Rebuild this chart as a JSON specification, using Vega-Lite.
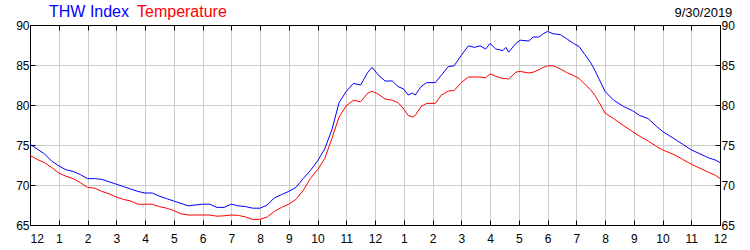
{
  "$schema": "https://vega.github.io/schema/vega-lite/v6.json",
  "width": 690,
  "height": 200,
  "autosize": {"type": "none"},
  "padding": {"left": 30, "top": 25, "right": 30, "bottom": 25},
  "background": "white",
  "config": {
    "font": "Liberation Sans",
    "view": {"stroke": "black", "strokeWidth": 1},
    "axis": {
      "domainColor": "black",
      "domainWidth": 1,
      "tickColor": "black",
      "tickWidth": 1,
      "tickSize": -5,
      "labelFont": "Liberation Sans",
      "labelFontSize": 12,
      "labelColor": "black",
      "gridColor": "#cccccc",
      "gridWidth": 1,
      "gridOpacity": 1,
      "title": null
    }
  },
  "title": {
    "text": "9/30/2019",
    "anchor": "end",
    "orient": "top",
    "font": "Liberation Sans",
    "fontSize": 13,
    "fontWeight": "normal",
    "color": "black",
    "offset": 0,
    "dx": -2,
    "dy": 16
  },
  "data": {
    "values": [
      {"h": 0.0, "thw": 75.1, "temp": 73.7},
      {"h": 0.25, "thw": 74.5, "temp": 73.2},
      {"h": 0.5, "thw": 73.9, "temp": 72.8},
      {"h": 0.75, "thw": 73.0, "temp": 72.2},
      {"h": 1.0, "thw": 72.4, "temp": 71.5},
      {"h": 1.25, "thw": 71.9, "temp": 71.1},
      {"h": 1.5, "thw": 71.7, "temp": 70.8},
      {"h": 1.75, "thw": 71.3, "temp": 70.3},
      {"h": 2.0, "thw": 70.8, "temp": 69.7},
      {"h": 2.25, "thw": 70.8, "temp": 69.6},
      {"h": 2.5, "thw": 70.7, "temp": 69.2},
      {"h": 2.75, "thw": 70.4, "temp": 68.9},
      {"h": 3.0, "thw": 70.1, "temp": 68.5},
      {"h": 3.25, "thw": 69.8, "temp": 68.2},
      {"h": 3.5, "thw": 69.5, "temp": 68.0},
      {"h": 3.75, "thw": 69.2, "temp": 67.6},
      {"h": 4.0, "thw": 69.0, "temp": 67.6},
      {"h": 4.25, "thw": 69.0, "temp": 67.6},
      {"h": 4.5, "thw": 68.6, "temp": 67.3},
      {"h": 4.75, "thw": 68.3, "temp": 67.1},
      {"h": 5.0, "thw": 68.0, "temp": 66.8},
      {"h": 5.25, "thw": 67.7, "temp": 66.4},
      {"h": 5.5, "thw": 67.4, "temp": 66.25},
      {"h": 5.75, "thw": 67.5, "temp": 66.25},
      {"h": 6.0, "thw": 67.6, "temp": 66.25},
      {"h": 6.25, "thw": 67.6, "temp": 66.25},
      {"h": 6.5, "thw": 67.2, "temp": 66.1},
      {"h": 6.75, "thw": 67.2, "temp": 66.15},
      {"h": 7.0, "thw": 67.6, "temp": 66.25},
      {"h": 7.25, "thw": 67.4, "temp": 66.2},
      {"h": 7.5, "thw": 67.3, "temp": 66.0},
      {"h": 7.75, "thw": 67.1, "temp": 65.7},
      {"h": 8.0, "thw": 67.1, "temp": 65.7},
      {"h": 8.25, "thw": 67.5, "temp": 66.0},
      {"h": 8.5, "thw": 68.4, "temp": 66.7},
      {"h": 8.75, "thw": 68.8, "temp": 67.2},
      {"h": 9.0, "thw": 69.2, "temp": 67.6},
      {"h": 9.25, "thw": 69.7, "temp": 68.2},
      {"h": 9.5, "thw": 70.8, "temp": 69.3},
      {"h": 9.75, "thw": 71.8, "temp": 70.8},
      {"h": 10.0, "thw": 73.0, "temp": 71.9},
      {"h": 10.25, "thw": 74.5, "temp": 73.3},
      {"h": 10.5, "thw": 76.9, "temp": 75.8},
      {"h": 10.75, "thw": 80.3, "temp": 78.5},
      {"h": 11.0, "thw": 81.7, "temp": 79.9},
      {"h": 11.25, "thw": 82.7, "temp": 80.6},
      {"h": 11.5, "thw": 82.5, "temp": 80.4},
      {"h": 11.75, "thw": 84.1, "temp": 81.5},
      {"h": 11.9, "thw": 84.7, "temp": 81.7},
      {"h": 12.1, "thw": 83.8, "temp": 81.4},
      {"h": 12.35, "thw": 83.0, "temp": 80.75},
      {"h": 12.6, "thw": 83.0, "temp": 80.6},
      {"h": 12.8, "thw": 82.3, "temp": 80.3},
      {"h": 13.0, "thw": 82.0, "temp": 79.5},
      {"h": 13.15, "thw": 81.25, "temp": 78.7},
      {"h": 13.3, "thw": 81.5, "temp": 78.5},
      {"h": 13.4, "thw": 81.25, "temp": 78.7},
      {"h": 13.6, "thw": 82.3, "temp": 79.8},
      {"h": 13.8, "thw": 82.8, "temp": 80.2},
      {"h": 14.1, "thw": 82.8, "temp": 80.2},
      {"h": 14.3, "thw": 83.7, "temp": 81.2},
      {"h": 14.55, "thw": 84.8, "temp": 81.75},
      {"h": 14.75, "thw": 84.9, "temp": 81.8},
      {"h": 15.0, "thw": 86.2, "temp": 82.8},
      {"h": 15.25, "thw": 87.4, "temp": 83.5},
      {"h": 15.45, "thw": 87.2, "temp": 83.5},
      {"h": 15.65, "thw": 87.4, "temp": 83.5},
      {"h": 15.85, "thw": 87.0, "temp": 83.4},
      {"h": 16.0, "thw": 87.7, "temp": 83.9},
      {"h": 16.2, "thw": 87.0, "temp": 83.6},
      {"h": 16.45, "thw": 86.8, "temp": 83.3},
      {"h": 16.55, "thw": 87.2, "temp": 83.3},
      {"h": 16.65, "thw": 86.6, "temp": 83.25},
      {"h": 16.9, "thw": 87.7, "temp": 84.1},
      {"h": 17.05, "thw": 88.1, "temp": 84.2},
      {"h": 17.35, "thw": 88.0, "temp": 84.0},
      {"h": 17.5, "thw": 88.5, "temp": 84.1},
      {"h": 17.7, "thw": 88.5, "temp": 84.4},
      {"h": 17.85, "thw": 88.9, "temp": 84.7},
      {"h": 18.0, "thw": 89.2, "temp": 84.9},
      {"h": 18.2, "thw": 88.9, "temp": 84.9},
      {"h": 18.45, "thw": 88.8, "temp": 84.5},
      {"h": 18.7, "thw": 88.2, "temp": 84.0},
      {"h": 18.9, "thw": 87.7, "temp": 83.7},
      {"h": 19.1, "thw": 87.3, "temp": 83.3},
      {"h": 19.3, "thw": 86.3, "temp": 82.6},
      {"h": 19.5, "thw": 85.3, "temp": 81.9},
      {"h": 19.65, "thw": 84.3, "temp": 81.2},
      {"h": 19.8, "thw": 83.2, "temp": 80.3},
      {"h": 20.0, "thw": 81.7, "temp": 79.0},
      {"h": 20.3, "thw": 80.6, "temp": 78.3},
      {"h": 20.65, "thw": 79.8, "temp": 77.4},
      {"h": 20.95, "thw": 79.3, "temp": 76.7},
      {"h": 21.2, "thw": 78.7, "temp": 76.1},
      {"h": 21.5, "thw": 78.3, "temp": 75.5},
      {"h": 21.8, "thw": 77.3, "temp": 74.8},
      {"h": 22.0, "thw": 76.7, "temp": 74.4},
      {"h": 22.4, "thw": 75.8, "temp": 73.8},
      {"h": 22.7, "thw": 75.1, "temp": 73.2},
      {"h": 23.0, "thw": 74.4, "temp": 72.6},
      {"h": 23.3, "thw": 73.9, "temp": 72.1},
      {"h": 23.6, "thw": 73.4, "temp": 71.6},
      {"h": 23.85, "thw": 73.1, "temp": 71.2},
      {"h": 24.0, "thw": 72.8, "temp": 70.8}
    ]
  },
  "resolve": {"axis": {"x": "independent", "y": "independent"}},
  "layer": [
    {
      "mark": {"type": "line", "strokeWidth": 1},
      "encoding": {
        "x": {
          "field": "h",
          "type": "quantitative",
          "scale": {"domain": [0, 24], "nice": false, "zero": false},
          "axis": {
            "orient": "bottom",
            "values": [0,1,2,3,4,5,6,7,8,9,10,11,12,13,14,15,16,17,18,19,20,21,22,23,24],
            "labelExpr": "datum.value % 12 == 0 ? '12' : '' + (datum.value % 12)",
            "labelAlign": {"condition": {"test": "datum.value == 0", "value": "left"}, "value": "center"},
            "labelPadding": 13,
            "grid": true
          }
        },
        "y": {
          "field": "thw",
          "type": "quantitative",
          "scale": {"domain": [65, 90], "nice": false, "zero": false},
          "axis": {
            "orient": "left",
            "values": [65, 70, 75, 80, 85, 90],
            "labelPadding": 6,
            "grid": true
          }
        },
        "color": {
          "datum": "THW Index",
          "type": "nominal",
          "scale": {"domain": ["THW Index", "Temperature"], "range": ["#0000ff", "#ff0000"]},
          "legend": {
            "orient": "none",
            "legendX": 3,
            "legendY": -21,
            "direction": "horizontal",
            "title": null,
            "symbolSize": 0,
            "symbolStrokeWidth": 0,
            "symbolOpacity": 0,
            "labelOffset": 0,
            "labelFont": "Liberation Sans",
            "labelFontSize": 16,
            "columnPadding": 0,
            "labelLimit": 0,
            "encode": {"labels": {"update": {
              "fill": {"scale": "color", "field": "value"},
              "dx": {"signal": "datum.value === 'Temperature' ? -9 : 0"}
            }}}
          }
        }
      }
    },
    {
      "mark": {"type": "line", "strokeWidth": 1},
      "encoding": {
        "x": {
          "field": "h",
          "type": "quantitative",
          "axis": {
            "orient": "top",
            "values": [0,1,2,3,4,5,6,7,8,9,10,11,12,13,14,15,16,17,18,19,20,21,22,23,24],
            "labels": false,
            "grid": false
          }
        },
        "y": {
          "field": "temp",
          "type": "quantitative",
          "axis": {
            "orient": "right",
            "values": [65, 70, 75, 80, 85, 90],
            "labelPadding": 6,
            "grid": false
          }
        },
        "color": {"datum": "Temperature", "type": "nominal"}
      }
    }
  ]
}
